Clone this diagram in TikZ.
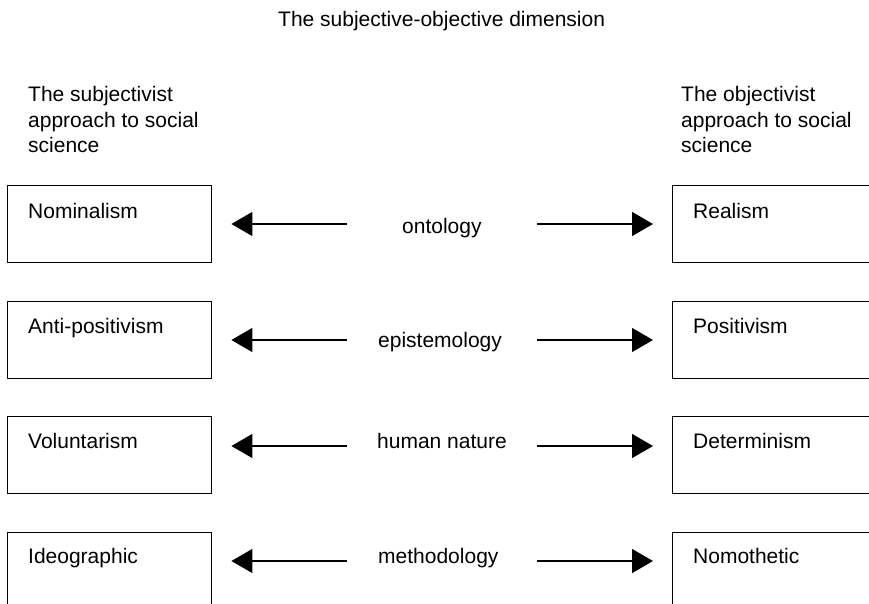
\documentclass[tikz,border=0pt]{standalone}
\usepackage{fontspec}
\setmainfont{Liberation Sans}
\usetikzlibrary{arrows.meta}
\begin{document}
\begin{tikzpicture}[x=1pt,y=-1pt,
  txt/.style={anchor=base west,inner sep=0pt,font=\fontsize{21}{25.5}\selectfont},
  hdr/.style={txt,anchor=north west,align=left},
  boxnode/.style={draw,line width=1.4pt,rectangle,minimum width=204pt,minimum height=77pt,inner sep=0pt,anchor=north west},
  conn/.style={line width=1.3pt,-{Triangle[length=21pt,width=24pt]}}]
\clip (0,0) rectangle (869,604);
\fill[white] (0,0) rectangle (869,604);
\node[txt] (title) at (278,27) {The subjective-objective dimension};
\node[hdr] (lh) at (28,86.5) {The subjectivist\\approach to social\\science};
\node[hdr] (rh) at (681,86.5) {The objectivist\\approach to social\\science};
% left boxes
\node[boxnode] (lb1) at (7,185) {};
\node[boxnode] (lb2) at (7,301) {};
\node[boxnode] (lb3) at (7,416) {};
\node[boxnode] (lb4) at (7,532) {};
\node[boxnode] (rb1) at (672,185) {};
\node[boxnode] (rb2) at (672,301) {};
\node[boxnode] (rb3) at (672,416) {};
\node[boxnode] (rb4) at (672,532) {};
\node[txt] (lt1) at (28,218) {Nominalism};
\node[txt] (lt2) at (28,333) {Anti-positivism};
\node[txt] (lt3) at (28,448) {Voluntarism};
\node[txt] (lt4) at (28,563) {Ideographic};
\node[txt] (rt1) at (693,218) {Realism};
\node[txt] (rt2) at (693,333) {Positivism};
\node[txt] (rt3) at (693,448) {Determinism};
\node[txt] (rt4) at (693,563) {Nomothetic};
\node[txt] (m1) at (402,233) {ontology};
\node[txt] (m2) at (378,347) {epistemology};
\node[txt] (m3) at (377,448) {human nature};
\node[txt] (m4) at (378,563) {methodology};
% arrow ends
\coordinate (a1) at (347,224); \coordinate (b1) at (537,224);
\coordinate (a2) at (347,340); \coordinate (b2) at (537,340);
\coordinate (a3) at (347,446); \coordinate (b3) at (537,446);
\coordinate (a4) at (347,561); \coordinate (b4) at (537,561);
\foreach \i in {1,2,3,4}{
  \draw[conn,shorten >=19pt] (a\i) -- (lb\i.east |- a\i);
  \draw[conn,shorten >=19pt] (b\i) -- (rb\i.west |- b\i);
}
\end{tikzpicture}
\end{document}
